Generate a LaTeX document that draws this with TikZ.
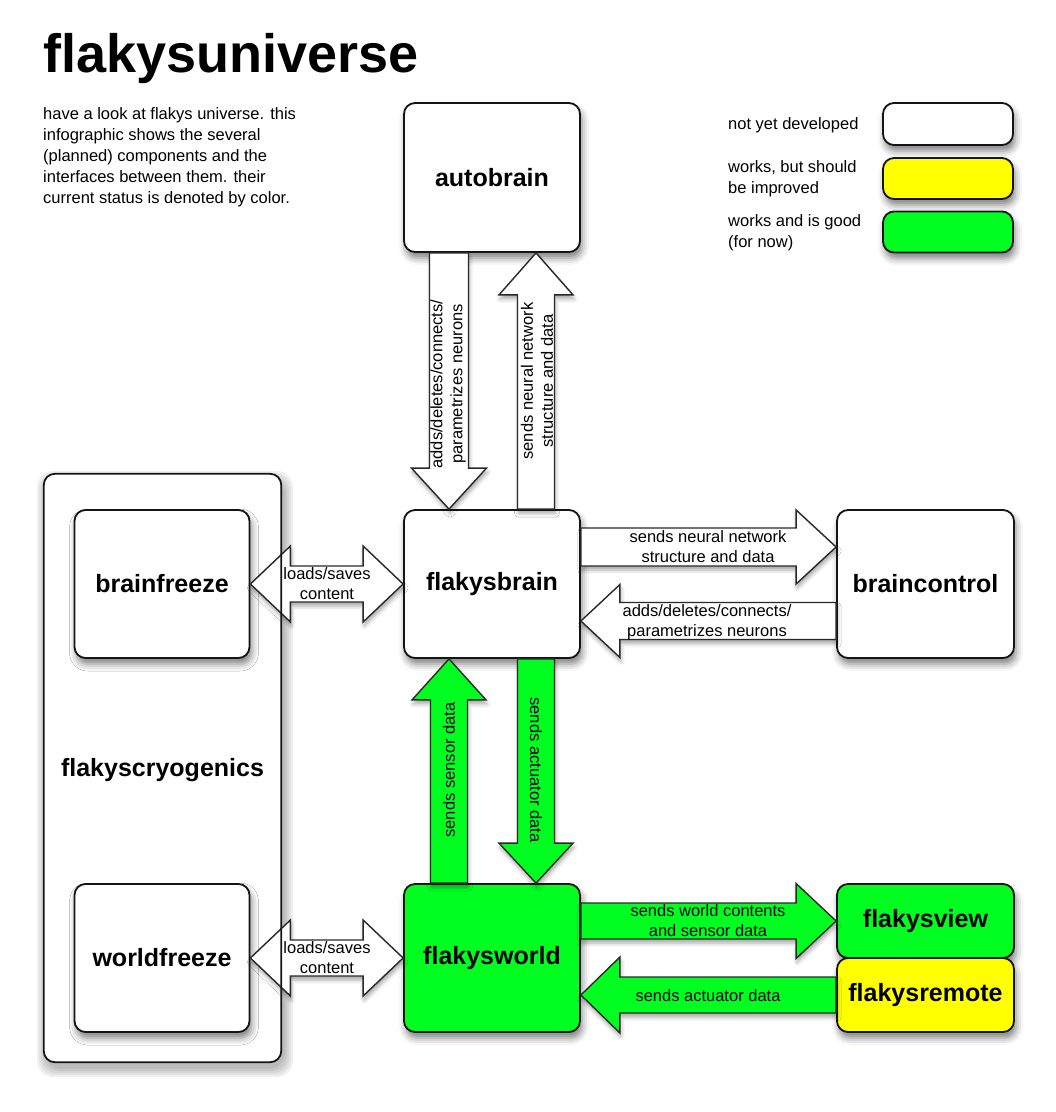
\documentclass[tikz,border=0pt]{standalone}
\usepackage{fontspec}
\setmainfont{Liberation Sans}
\usetikzlibrary{calc,shadows.blur}
\definecolor{flgreen}{RGB}{0,255,32}
\definecolor{flyellow}{RGB}{255,255,0}
\definecolor{edgecol}{RGB}{20,20,20}
\definecolor{arrcol}{RGB}{40,40,40}
\pgfdeclarelayer{fg}
\pgfdeclarelayer{top}
\pgfsetlayers{main,fg,top}

% block arrow: #1 start, #2 tip, #3 shaft half width, #4 head half width, #5 head length, #6 style
\newcommand{\blockarrow}[6]{%
  \coordinate (bahead) at ($(#2)!#5!(#1)$);
  \draw[#6] ($(#1)!#3!90:(#2)$) -- ($(bahead)!#3!90:(#2)$) -- ($(bahead)!#4!90:(#2)$) -- (#2)
    -- ($(bahead)!#4!-90:(#2)$) -- ($(bahead)!#3!-90:(#2)$) -- ($(#1)!#3!-90:(#2)$) -- cycle;}
% double block arrow
\newcommand{\dblarrow}[6]{%
  \coordinate (dbA) at ($(#1)!#5!(#2)$);
  \coordinate (dbB) at ($(#2)!#5!(#1)$);
  \draw[#6] (#1) -- ($(dbA)!#4!90:(#2)$) -- ($(dbA)!#3!90:(#2)$) -- ($(dbB)!#3!-90:(#1)$)
    -- ($(dbB)!#4!-90:(#1)$) -- (#2) -- ($(dbB)!#4!90:(#1)$) -- ($(dbB)!#3!90:(#1)$)
    -- ($(dbA)!#3!-90:(#2)$) -- ($(dbA)!#4!-90:(#2)$) -- cycle;}

\tikzset{
  box/.style={draw=edgecol, line width=1.8pt, rounded corners=11pt, fill=white, inner sep=0pt,
    font=\bfseries\fontsize{25}{30}\selectfont,
    blur shadow={shadow xshift=2pt, shadow yshift=-6pt, shadow blur radius=7pt, shadow opacity=50}},
  arr/.style={draw=arrcol, line width=1.4pt, fill=white,
    blur shadow={shadow xshift=1pt, shadow yshift=-4pt, shadow blur radius=4pt, shadow opacity=35}},
  garr/.style={arr, fill=flgreen},
  lbl/.style={font=\fontsize{16.5}{20}\selectfont, align=center, inner sep=0pt, text=black},
  legtxt/.style={font=\fontsize{16.5}{21}\selectfont, align=left, inner sep=0pt, anchor=west},
  softshadow/.style={fill=black, opacity=0.06, rounded corners=16pt},
}

\begin{document}
\begin{tikzpicture}[x=1pt,y=-1pt]
\useasboundingbox (0,0) rectangle (1056,1112);

% title and description
\node[anchor=base west, inner sep=0pt, font=\bfseries\fontsize{54}{60}\selectfont] (title) at (43,72) {flakysuniverse};
\node[anchor=north west, align=left, inner sep=0pt, font=\fontsize{16.5}{21}\selectfont] (desc) at (43,107)
  {have a look at flakys universe. this\\infographic shows the several\\(planned) components and the\\interfaces between them. their\\current status is denoted by color.};

% legend
\node[legtxt] (leg1t) at (728,125) {not yet developed};
\node[legtxt] (leg2t) at (728,178.5) {works, but should\\be improved};
\node[legtxt] (leg3t) at (728,232.5) {works and is good\\(for now)};
\node[box, minimum width=130pt, minimum height=42pt] (leg1) at (948,124) {};
\node[box, fill=flyellow, minimum width=130pt, minimum height=41pt] (leg2) at (948,178.5) {};
\node[box, fill=flgreen, minimum width=130pt, minimum height=41pt] (leg3) at (948,232) {};

% cryogenics container: soft shadow, then the box
\foreach \r in {1,3,5,7,9}
  \fill[softshadow] (46-\r,480-\r) rectangle (284+\r,1068+\r);
\node[fill=white, draw=none, rounded corners=11pt, inner sep=0pt, minimum width=237pt, minimum height=588pt] (cryo) at (162.5,768) {};
\node[font=\bfseries\fontsize{25}{30}\selectfont, inner sep=0pt] (cryolabel) at (162.5,770) {flakyscryogenics};

% boxes
\node[box, minimum width=176pt, minimum height=149pt] (autobrain) at (492,177.5) {autobrain};
\node[box, minimum width=176pt, minimum height=148pt] (flakysbrain) at (492,584) {flakysbrain};
\node[box, minimum width=177pt, minimum height=148pt] (braincontrol) at (925.5,584) {braincontrol};
\node[box, fill=flgreen, minimum width=176pt, minimum height=148pt] (flakysworld) at (492,958) {flakysworld};
\node[box, fill=flgreen, minimum width=177pt, minimum height=74pt] (flakysview) at (925.5,921) {flakysview};
\node[box, fill=flyellow, minimum width=177pt, minimum height=74pt] (flakysremote) at (925.5,995) {flakysremote};
\node[box, minimum width=175pt, minimum height=148pt] (brainfreeze) at (162,584) {brainfreeze};
\node[box, minimum width=175pt, minimum height=148pt] (worldfreeze) at (162,958) {worldfreeze};

% connector end points
\coordinate (d1s) at ($(autobrain.south)+(-43,0)$);
\coordinate (d1t) at ($(flakysbrain.north)+(-43,0)$);
\coordinate (u1s) at ($(flakysbrain.north)+(44,0)$);
\coordinate (u1t) at ($(autobrain.south)+(44,0)$);
\coordinate (r1s) at ($(flakysbrain.east)+(0,-37)$);
\coordinate (r1t) at ($(braincontrol.west)+(0,-37)$);
\coordinate (l1s) at ($(braincontrol.west)+(0,37)$);
\coordinate (l1t) at ($(flakysbrain.east)+(0,37)$);
\coordinate (u2s) at ($(flakysworld.north)+(-43,0)$);
\coordinate (u2t) at ($(flakysbrain.south)+(-43,0)$);
\coordinate (d2s) at ($(flakysbrain.south)+(44,0)$);
\coordinate (d2t) at ($(flakysworld.north)+(44,0)$);
\coordinate (r2s) at (flakysworld.east |- flakysview.west);
\coordinate (r2t) at (flakysview.west);
\coordinate (l2s) at (flakysremote.west);
\coordinate (l2t) at (flakysworld.east |- flakysremote.west);

% connectors
\begin{pgfonlayer}{fg}
\blockarrow{d1s}{d1t}{19.5pt}{37.5pt}{41pt}{arr}
\blockarrow{u1s}{u1t}{18.5pt}{37pt}{42pt}{arr}
\blockarrow{r1s}{r1t}{19pt}{37pt}{40pt}{arr}
\blockarrow{l1s}{l1t}{18.5pt}{36.5pt}{39pt}{arr}
\blockarrow{u2s}{u2t}{18.5pt}{37pt}{41pt}{garr}
\blockarrow{d2s}{d2t}{18.5pt}{37pt}{40pt}{garr}
\blockarrow{r2s}{r2t}{18pt}{37.5pt}{40pt}{garr}
\blockarrow{l2s}{l2t}{18pt}{38pt}{39pt}{garr}
\dblarrow{brainfreeze.east}{flakysbrain.west}{18pt}{38pt}{40pt}{arr}
\dblarrow{worldfreeze.east}{flakysworld.west}{18pt}{38pt}{40pt}{arr}
\end{pgfonlayer}

\begin{pgfonlayer}{top}
% container border passes over the arrow heads
\draw[draw=edgecol, line width=1.8pt, rounded corners=11pt] (cryo.north west) rectangle (cryo.south east);
% connector labels
\node[lbl, rotate=90] (t1) at (448,384) {adds/deletes/connects/\\parametrizes neurons};
\node[lbl, rotate=90] (t2) at (537,381) {sends neural network\\structure and data};
\node[lbl] (t3) at (708,547) {sends neural network\\structure and data};
\node[lbl] (t4) at (707,622) {adds/deletes/connects/\\parametrizes neurons};
\node[lbl, rotate=90] (t5) at (449,770) {sends sensor data};
\node[lbl, rotate=-90] (t6) at (536,770) {sends actuator data};
\node[lbl] (t7) at (708,921) {sends world contents\\and sensor data};
\node[lbl] (t8) at (708,996) {sends actuator data};
\node[lbl] (t9) at (327,584) {loads/saves\\content};
\node[lbl] (t10) at (327,958) {loads/saves\\content};
\end{pgfonlayer}
\end{tikzpicture}
\end{document}
